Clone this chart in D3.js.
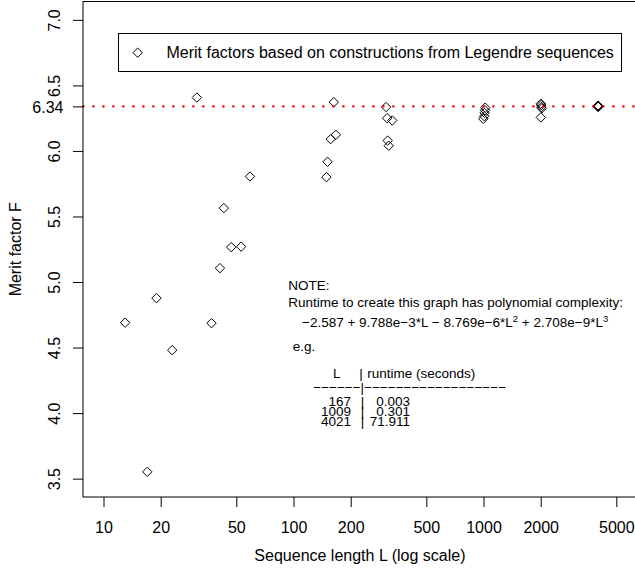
<!DOCTYPE html>
<html>
<head>
<meta charset="utf-8">
<script src="https://cdn.jsdelivr.net/npm/d3@7"></script>
<style>
  html, body { margin: 0; padding: 0; background: #fff; }
  svg { display: block; font-family: "Liberation Sans", Arial, Helvetica, sans-serif; }
</style>
</head>
<body>
<svg id="chart" width="635" height="581"></svg>
<script>
// ---- data ----
const seqLength = [13, 17, 19, 23, 31, 37, 41, 43, 47, 53, 59,
  149, 151, 157, 163, 167,
  307, 311, 313, 317, 331,
  997, 1009, 1013, 1019, 1021,
  2003, 2011, 2017, 2027, 2003,
  3989, 4001, 4003, 4007, 4013, 4019, 4021];
const meritFactor = [4.69, 3.552, 4.877, 4.48, 6.407, 4.686, 5.106, 5.564, 5.266, 5.27, 5.805,
  5.80, 5.917, 6.09, 6.372, 6.123,
  6.335, 6.25, 6.079, 6.04, 6.232,
  6.245, 6.265, 6.29, 6.31, 6.33,
  6.36, 6.35, 6.335, 6.325, 6.256,
  6.342, 6.345, 6.338, 6.340, 6.336, 6.344, 6.341];
const xTicks = [10, 20, 50, 100, 200, 500, 1000, 2000, 5000];
const yTicks = [3.5, 4.0, 4.5, 5.0, 5.5, 6.0, 6.5, 7.0];
const refValue = 6.34;
const xLimits = [10, 5000];
const yLimits = [3.5, 7.0];
const legendLabel = "Merit factors based on constructions from Legendre sequences";
const noteLines = ["NOTE:", "Runtime to create this graph has polynomial complexity:"];
const tableL = [167, 1009, 4021];
const tableRuntime = ["0.003", "0.301", "71.911"];

// ---- layout ----
const svg = d3.select("#chart");
const plot = { left: 83, top: 1.5, bottom: 497 };
const lx0 = Math.log10(xLimits[0]), lx1 = Math.log10(xLimits[1]);
const padX = (lx1 - lx0) * 0.04;
const pxPerDecade = 190;
plot.right = plot.left + (lx1 - lx0 + 2 * padX) * pxPerDecade;
const padY = (yLimits[1] - yLimits[0]) * 0.04;

const x = d3.scaleLog()
  .domain([Math.pow(10, lx0 - padX), Math.pow(10, lx1 + padX)])
  .range([plot.left, plot.right]);
const y = d3.scaleLinear()
  .domain([yLimits[0] - padY, yLimits[1] + padY])
  .range([plot.bottom, plot.top]);

const FS = 16;

// points
const diamond = (cx, cy, r) => `M${cx},${cy - r}L${cx + r},${cy}L${cx},${cy + r}L${cx - r},${cy}Z`;
const pts = seqLength.map((d, i) => ({ L: d, F: meritFactor[i] }));
svg.append("g").selectAll("path").data(pts).join("path")
  .attr("d", d => diamond(x(d.L), y(d.F), 4.7))
  .attr("fill", "none").attr("stroke", "#000").attr("stroke-width", 1);

// reference line
svg.append("line")
  .attr("x1", plot.left - 0.7).attr("x2", plot.right)
  .attr("y1", y(refValue)).attr("y2", y(refValue))
  .attr("stroke", "#ff0000").attr("stroke-width", 2.2)
  .attr("stroke-dasharray", "2.2 7.8");

// box
svg.append("rect")
  .attr("x", plot.left).attr("y", plot.top)
  .attr("width", plot.right - plot.left).attr("height", plot.bottom - plot.top)
  .attr("fill", "none").attr("stroke", "#000").attr("stroke-width", 1);

// x axis
const xAxis = d3.axisBottom(x).tickValues(xTicks).tickFormat(d3.format("d"))
  .tickSize(10).tickPadding(0);
const gx = svg.append("g").attr("transform", `translate(0,${plot.bottom})`).call(xAxis);
gx.select(".domain").remove();
gx.selectAll(".tick line").attr("stroke", "#000");
gx.selectAll(".tick text").attr("font-size", FS).attr("font-family", null)
  .attr("fill", "#000").attr("dy", null).attr("y", 35.5);

// y axis (rotated labels)
const yAxis = d3.axisLeft(y).tickValues(yTicks).tickFormat(d3.format(".1f"))
  .tickSize(10).tickPadding(0);
const gy = svg.append("g").attr("transform", `translate(${plot.left},0)`).call(yAxis);
gy.select(".domain").remove();
gy.selectAll(".tick line").attr("stroke", "#000");
gy.selectAll(".tick text").attr("font-size", FS).attr("font-family", null).attr("fill", "#000")
  .attr("x", null).attr("dy", null).attr("text-anchor", "middle")
  .attr("transform", "translate(-23,0) rotate(-90)");

// y axis extra tick (horizontal label)
const yAxis2 = d3.axisLeft(y).tickValues([refValue]).tickFormat(d3.format(".2f"))
  .tickSize(10).tickPadding(0);
const gy2 = svg.append("g").attr("transform", `translate(${plot.left},0)`).call(yAxis2);
gy2.select(".domain").remove();
gy2.selectAll(".tick line").attr("stroke", "#000");
gy2.selectAll(".tick text").attr("font-size", FS).attr("font-family", null).attr("fill", "#000")
  .attr("x", -19.5).attr("dy", "0.36em").attr("text-anchor", "end");

// axis titles
svg.append("text").attr("x", (plot.left + plot.right) / 2).attr("y", 561)
  .attr("text-anchor", "middle").attr("font-size", FS)
  .text("Sequence length L (log scale)");
svg.append("text").attr("transform", `translate(21,${(plot.top + plot.bottom) / 2}) rotate(-90)`)
  .attr("text-anchor", "middle").attr("font-size", FS)
  .text("Merit factor F");

// legend
const lg = svg.append("g");
lg.append("rect").attr("x", 118.5).attr("y", 33.5).attr("width", 503).attr("height", 38)
  .attr("fill", "#fff").attr("stroke", "#000").attr("stroke-width", 1);
lg.append("path").attr("d", diamond(137.7, 52.7, 4.7))
  .attr("fill", "none").attr("stroke", "#000");
lg.append("text").attr("x", 166.5).attr("y", 58.4).attr("font-size", FS).text(legendLabel);

// note
const NF = 13.5;
const note = svg.append("g").attr("font-size", NF).attr("fill", "#000");
note.append("text").attr("x", 288.3).attr("y", 290).text(noteLines[0]);
note.append("text").attr("x", 288.3).attr("y", 307).text(noteLines[1]);
const f = note.append("text").attr("x", 302).attr("y", 327);
f.append("tspan").text("\u22122.587 + 9.788e\u22123*L \u2212 8.769e\u22126*L");
f.append("tspan").attr("font-size", NF * 0.7).attr("dy", -5).text("2");
f.append("tspan").attr("dy", 5).text(" + 2.708e\u22129*L");
f.append("tspan").attr("font-size", NF * 0.7).attr("dy", -5).text("3");
note.append("text").attr("x", 292.7).attr("y", 350.5).text("e.g.");

// table (one text element, rows as tspans)
const tb = note.append("text");
tb.append("tspan").attr("x", 333).attr("y", 378).text("L");
tb.append("tspan").attr("x", 361).attr("y", 378).attr("text-anchor", "middle").text("|");
tb.append("tspan").attr("x", 367.3).attr("y", 378).text("runtime (seconds)");
tb.append("tspan").attr("x", 313.3).attr("y", 392)
  .text("\u2212".repeat(6) + "|" + "\u2212".repeat(18));
tableL.forEach((v, i) => {
  const yy = 405.5 + i * 10;
  tb.append("tspan").attr("x", 351).attr("y", yy).attr("text-anchor", "end").text(v);
  tb.append("tspan").attr("x", 362.5).attr("y", yy).attr("text-anchor", "middle").text("|");
  tb.append("tspan").attr("x", 410).attr("y", yy).attr("text-anchor", "end").text(tableRuntime[i]);
});
</script>
</body>
</html>
